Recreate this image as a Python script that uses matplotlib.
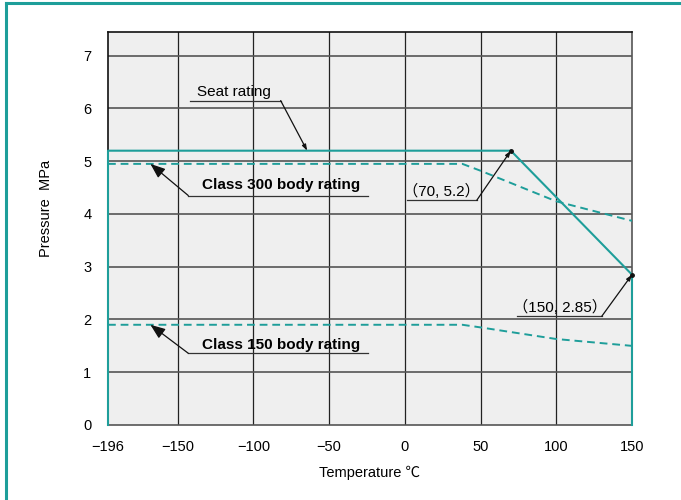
import matplotlib.pyplot as plt
from matplotlib.lines import Line2D

# data
seat_t = [-196, -196, 70, 150, 150]
seat_p = [0, 5.2, 5.2, 2.85, 0]
c300_t = [-196, 38, 50, 100, 150]
c300_p = [4.95, 4.95, 4.82, 4.24, 3.87]
c150_t = [-196, 38, 50, 100, 150]
c150_p = [1.9, 1.9, 1.85, 1.63, 1.5]

xticks = [-196, -150, -100, -50, 0, 50, 100, 150]
yticks = [0, 1, 2, 3, 4, 5, 6, 7]

teal = "#1e9e9a"
fonts = ["Liberation Sans", "Noto Sans CJK JP", "DejaVu Sans"]
plt.rcParams["font.family"] = fonts

fig = plt.figure(figsize=(6.81, 5.0), dpi=100)
ax = fig.add_axes([108 / 681, 0.15, 524 / 681, 0.786])
ax.set_facecolor("#efefef")
ax.set_xlim(-196, 150)
ax.set_ylim(0, 7.45)

# grid
for t in xticks[1:-1]:
    ax.axvline(t, color="#222222", lw=0.9, zorder=1)
for p in yticks[1:]:
    ax.axhline(p, color="#555555", lw=1.2, zorder=1)

ax.set_xticks(xticks)
ax.set_xticklabels(["\u2212196", "\u2212150", "\u2212100", "\u221250", "0", "50", "100", "150"])
ax.set_yticks(yticks)
ax.tick_params(length=0, labelsize=10.5, pad=11)
ax.tick_params(axis="y", pad=12)

for s in ["left", "top"]:
    ax.spines[s].set_color("#111111")
for s in ["right", "bottom"]:
    ax.spines[s].set_color("#555555")
for s in ax.spines.values():
    s.set_linewidth(1.2)

ax.set_xlabel("Temperature \u2103", fontsize=10.5, labelpad=8)
ax.set_ylabel("Pressure  MPa", fontsize=10.5)
ax.yaxis.set_label_coords(-0.105, 0.55)

# rating lines
ax.plot(seat_t, seat_p, color=teal, lw=1.5, clip_on=False, zorder=4)
ax.plot(c300_t, c300_p, color=teal, lw=1.4, ls=(0, (4, 2.5)), zorder=4)
ax.plot(c150_t, c150_p, color=teal, lw=1.4, ls=(0, (4, 2.5)), zorder=4)
ax.plot([70, 150], [5.2, 2.85], "o", color="#111111", ms=2.5, clip_on=False, zorder=5)


def label(text, tx, ty, ux0, ux1, uy, tip, bold=False, big=False):
    ax.text(tx, ty, text, ha="center", va="center", fontsize=11,
            fontweight="bold" if bold else "normal", zorder=6)
    ax.plot([ux0, ux1], [uy, uy], color="#333333", lw=0.9, zorder=6)
    start = (ux0, uy) if tip[0] < ux0 else (ux1, uy)
    if big:
        style = dict(arrowstyle="-|>,head_length=0.9,head_width=0.35",
                     color="#111111", lw=0.9, shrinkA=0, shrinkB=0)
    else:
        style = dict(arrowstyle="-|>,head_length=0.35,head_width=0.12",
                     color="#111111", lw=0.9, shrinkA=0, shrinkB=0)
    ax.annotate("", xy=tip, xytext=start, arrowprops=style, zorder=6)


label("Seat rating", -113, 6.31, -142, -82, 6.15, (-64.5, 5.2))
label("Class 300 body rating", -82, 4.55, -143, -24, 4.35, (-168, 4.95), bold=True, big=True)
label("Class 150 body rating", -82, 1.52, -143, -24, 1.36, (-168, 1.9), bold=True, big=True)
label("\uff0870, 5.2\uff09", 24, 4.42, 1.5, 47.5, 4.26, (70, 5.2))
label("\uff08150, 2.85\uff09", 102.5, 2.22, 74, 130, 2.06, (150, 2.85))

# teal frame around the figure (left and top edges)
fig.add_artist(Line2D([5.5 / 681, 5.5 / 681], [0, 1 - 2.5 / 500], color=teal, lw=2.2,
                      transform=fig.transFigure))
fig.add_artist(Line2D([5.5 / 681, 1], [1 - 2.5 / 500, 1 - 2.5 / 500], color=teal, lw=2.2,
                      transform=fig.transFigure))

fig.savefig("out.png", dpi=100)
